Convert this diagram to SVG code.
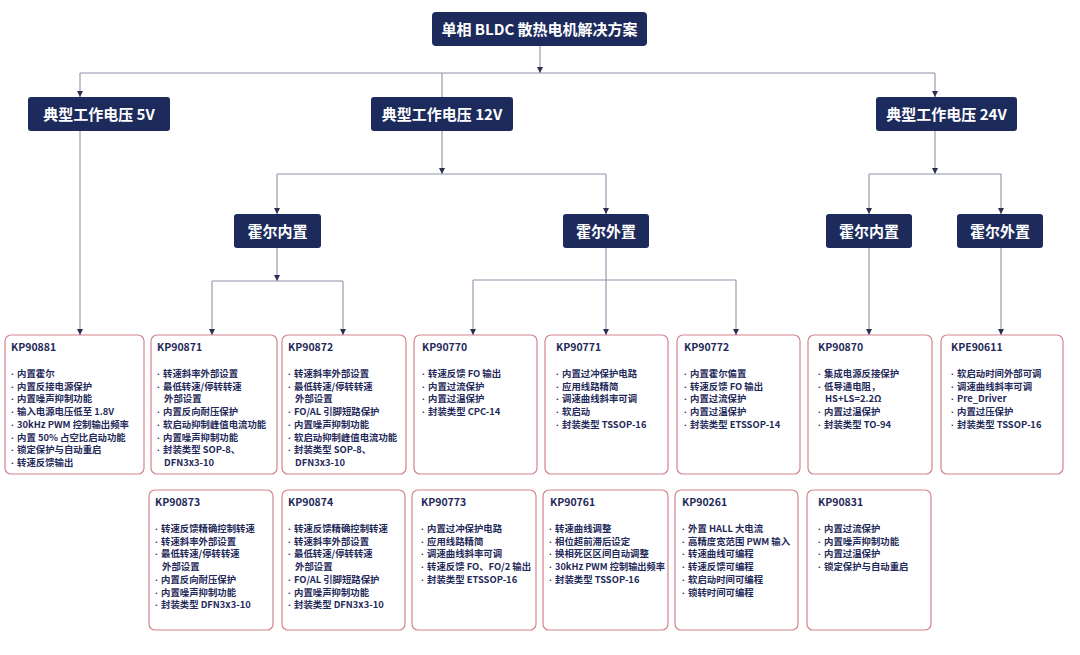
<svg xmlns="http://www.w3.org/2000/svg" width="1080" height="655" viewBox="0 0 1080 655">
<style>
.hd{fill:#1c2a5c;}
.ht{fill:#ffffff;font-family:"Noto Sans CJK SC","Noto Sans",sans-serif;font-weight:700;font-size:15px;text-anchor:middle;}
.card{fill:#ffffff;stroke:#d4848d;stroke-width:1.2;}
.ct{fill:#1f2a5a;font-family:"Noto Sans CJK SC","Noto Sans",sans-serif;font-weight:700;font-size:10.5px;}
.cl{fill:#1f2a5a;font-family:"Noto Sans CJK SC","Noto Sans",sans-serif;font-weight:700;font-size:9.4px;}
.b{font-family:"Noto Sans","DejaVu Sans",sans-serif;}
.ln{fill:none;stroke:#8e92a8;stroke-width:1.1;}
.ar{marker-end:url(#arr);}
</style>
<defs>
<marker id="arr" viewBox="0 0 10 10" refX="10" refY="5" markerWidth="6" markerHeight="6" markerUnits="userSpaceOnUse" orient="auto">
<path d="M0,0 L10,5 L0,10 z" fill="#2a2f4f"/>
</marker>
</defs>
<rect width="1080" height="655" fill="#ffffff"/>
<g id="connectors">
<path class="ln ar" d="M540,46 V73"/>
<path class="ln" d="M80,73 H935"/>
<path class="ln ar" d="M80,73 V97"/>
<path class="ln" d="M442,73 V97"/>
<path class="ln ar" d="M935,73 V97"/>
<path class="ln ar" d="M80,131 V335"/>
<path class="ln ar" d="M442,131 V174"/>
<path class="ln" d="M277,174 H606"/>
<path class="ln ar" d="M277,174 V214"/>
<path class="ln ar" d="M606,174 V214"/>
<path class="ln ar" d="M935,131 V174"/>
<path class="ln" d="M869,174 H1001"/>
<path class="ln ar" d="M869,174 V214"/>
<path class="ln ar" d="M1001,174 V214"/>
<path class="ln ar" d="M277,248 V281"/>
<path class="ln" d="M212,281 H343"/>
<path class="ln ar" d="M212,281 V335"/>
<path class="ln ar" d="M343,281 V335"/>
<path class="ln ar" d="M606,248 V335"/>
<path class="ln" d="M473,280 H736"/>
<path class="ln ar" d="M473,280 V335"/>
<path class="ln ar" d="M736,280 V335"/>
<path class="ln ar" d="M869,248 V335"/>
<path class="ln ar" d="M1001,248 V335"/>
</g>
<g id="title"><rect class="hd" x="432" y="12" width="215" height="34" rx="4"/><text class="ht" x="539.5" y="34.5">单相 BLDC 散热电机解决方案</text></g>
<g id="v5"><rect class="hd" x="28" y="97" width="142" height="34" rx="3"/><text class="ht" x="99" y="119.5">典型工作电压 5V</text></g>
<g id="v12"><rect class="hd" x="371" y="97" width="142" height="34" rx="3"/><text class="ht" x="442" y="119.5">典型工作电压 12V</text></g>
<g id="v24"><rect class="hd" x="876" y="97" width="141" height="34" rx="3"/><text class="ht" x="946.5" y="119.5">典型工作电压 24V</text></g>
<g id="hall-in-12"><rect class="hd" x="234" y="214" width="87" height="34" rx="3"/><text class="ht" x="277.5" y="236.5">霍尔内置</text></g>
<g id="hall-out-12"><rect class="hd" x="563" y="214" width="86" height="34" rx="3"/><text class="ht" x="606" y="236.5">霍尔外置</text></g>
<g id="hall-in-24"><rect class="hd" x="826" y="214" width="86" height="34" rx="3"/><text class="ht" x="869" y="236.5">霍尔内置</text></g>
<g id="hall-out-24"><rect class="hd" x="957" y="214" width="86" height="34" rx="3"/><text class="ht" x="1000" y="236.5">霍尔外置</text></g>

<g id="kp90881"><rect class="card" x="5" y="335" width="139" height="139" rx="6"/>
<text class="ct" x="11" y="351">KP90881</text>
<text class="cl" y="377"><tspan class="b" x="11">·</tspan><tspan x="17">内置霍尔</tspan></text>
<text class="cl" y="389.7"><tspan class="b" x="11">·</tspan><tspan x="17">内置反接电源保护</tspan></text>
<text class="cl" y="402.4"><tspan class="b" x="11">·</tspan><tspan x="17">内置噪声抑制功能</tspan></text>
<text class="cl" y="415.1"><tspan class="b" x="11">·</tspan><tspan x="17">输入电源电压低至 1.8V</tspan></text>
<text class="cl" y="427.8"><tspan class="b" x="11">·</tspan><tspan x="17">30kHz PWM 控制输出频率</tspan></text>
<text class="cl" y="440.5"><tspan class="b" x="11">·</tspan><tspan x="17">内置 50% 占空比启动功能</tspan></text>
<text class="cl" y="453.2"><tspan class="b" x="11">·</tspan><tspan x="17">锁定保护与自动重启</tspan></text>
<text class="cl" y="465.9"><tspan class="b" x="11">·</tspan><tspan x="17">转速反馈输出</tspan></text>
</g>
<g id="kp90871"><rect class="card" x="151" y="335" width="126" height="139" rx="6"/>
<text class="ct" x="157" y="351">KP90871</text>
<text class="cl" y="377"><tspan class="b" x="157">·</tspan><tspan x="163">转速斜率外部设置</tspan></text>
<text class="cl" y="389.7"><tspan class="b" x="157">·</tspan><tspan x="163">最低转速/停转转速</tspan></text>
<text class="cl" x="164" y="402.4">外部设置</text>
<text class="cl" y="415.1"><tspan class="b" x="157">·</tspan><tspan x="163">内置反向耐压保护</tspan></text>
<text class="cl" y="427.8"><tspan class="b" x="157">·</tspan><tspan x="163">软启动抑制峰值电流功能</tspan></text>
<text class="cl" y="440.5"><tspan class="b" x="157">·</tspan><tspan x="163">内置噪声抑制功能</tspan></text>
<text class="cl" y="453.2"><tspan class="b" x="157">·</tspan><tspan x="163">封装类型 SOP-8、</tspan></text>
<text class="cl" x="164" y="465.9">DFN3x3-10</text>
</g>
<g id="kp90872"><rect class="card" x="282" y="335" width="124" height="139" rx="6"/>
<text class="ct" x="288" y="351">KP90872</text>
<text class="cl" y="377"><tspan class="b" x="288">·</tspan><tspan x="294">转速斜率外部设置</tspan></text>
<text class="cl" y="389.7"><tspan class="b" x="288">·</tspan><tspan x="294">最低转速/停转转速</tspan></text>
<text class="cl" x="295" y="402.4">外部设置</text>
<text class="cl" y="415.1"><tspan class="b" x="288">·</tspan><tspan x="294">FO/AL 引脚短路保护</tspan></text>
<text class="cl" y="427.8"><tspan class="b" x="288">·</tspan><tspan x="294">内置噪声抑制功能</tspan></text>
<text class="cl" y="440.5"><tspan class="b" x="288">·</tspan><tspan x="294">软启动抑制峰值电流功能</tspan></text>
<text class="cl" y="453.2"><tspan class="b" x="288">·</tspan><tspan x="294">封装类型 SOP-8、</tspan></text>
<text class="cl" x="295" y="465.9">DFN3x3-10</text>
</g>
<g id="kp90770"><rect class="card" x="414" y="335" width="123" height="139" rx="6"/>
<text class="ct" x="422" y="351">KP90770</text>
<text class="cl" y="377"><tspan class="b" x="422">·</tspan><tspan x="428">转速反馈 FO 输出</tspan></text>
<text class="cl" y="389.7"><tspan class="b" x="422">·</tspan><tspan x="428">内置过流保护</tspan></text>
<text class="cl" y="402.4"><tspan class="b" x="422">·</tspan><tspan x="428">内置过温保护</tspan></text>
<text class="cl" y="415.1"><tspan class="b" x="422">·</tspan><tspan x="428">封装类型 CPC-14</tspan></text>
</g>
<g id="kp90771"><rect class="card" x="545" y="335" width="123" height="139" rx="6"/>
<text class="ct" x="556" y="351">KP90771</text>
<text class="cl" y="377"><tspan class="b" x="556">·</tspan><tspan x="562">内置过冲保护电路</tspan></text>
<text class="cl" y="389.7"><tspan class="b" x="556">·</tspan><tspan x="562">应用线路精简</tspan></text>
<text class="cl" y="402.4"><tspan class="b" x="556">·</tspan><tspan x="562">调速曲线斜率可调</tspan></text>
<text class="cl" y="415.1"><tspan class="b" x="556">·</tspan><tspan x="562">软启动</tspan></text>
<text class="cl" y="427.8"><tspan class="b" x="556">·</tspan><tspan x="562">封装类型 TSSOP-16</tspan></text>
</g>
<g id="kp90772"><rect class="card" x="677" y="335" width="123" height="139" rx="6"/>
<text class="ct" x="684" y="351">KP90772</text>
<text class="cl" y="377"><tspan class="b" x="684">·</tspan><tspan x="690">内置霍尔偏置</tspan></text>
<text class="cl" y="389.7"><tspan class="b" x="684">·</tspan><tspan x="690">转速反馈 FO 输出</tspan></text>
<text class="cl" y="402.4"><tspan class="b" x="684">·</tspan><tspan x="690">内置过流保护</tspan></text>
<text class="cl" y="415.1"><tspan class="b" x="684">·</tspan><tspan x="690">内置过温保护</tspan></text>
<text class="cl" y="427.8"><tspan class="b" x="684">·</tspan><tspan x="690">封装类型 ETSSOP-14</tspan></text>
</g>
<g id="kp90870"><rect class="card" x="808" y="335" width="124" height="139" rx="6"/>
<text class="ct" x="818" y="351">KP90870</text>
<text class="cl" y="377"><tspan class="b" x="818">·</tspan><tspan x="824">集成电源反接保护</tspan></text>
<text class="cl" y="389.7"><tspan class="b" x="818">·</tspan><tspan x="824">低导通电阻，</tspan></text>
<text class="cl" x="825" y="402.4">HS+LS=2.2Ω</text>
<text class="cl" y="415.1"><tspan class="b" x="818">·</tspan><tspan x="824">内置过温保护</tspan></text>
<text class="cl" y="427.8"><tspan class="b" x="818">·</tspan><tspan x="824">封装类型 TO-94</tspan></text>
</g>
<g id="kpe90611"><rect class="card" x="941" y="335" width="122" height="139" rx="6"/>
<text class="ct" x="951" y="351">KPE90611</text>
<text class="cl" y="377"><tspan class="b" x="951">·</tspan><tspan x="957">软启动时间外部可调</tspan></text>
<text class="cl" y="389.7"><tspan class="b" x="951">·</tspan><tspan x="957">调速曲线斜率可调</tspan></text>
<text class="cl" y="402.4"><tspan class="b" x="951">·</tspan><tspan x="957">Pre_Driver</tspan></text>
<text class="cl" y="415.1"><tspan class="b" x="951">·</tspan><tspan x="957">内置过压保护</tspan></text>
<text class="cl" y="427.8"><tspan class="b" x="951">·</tspan><tspan x="957">封装类型 TSSOP-16</tspan></text>
</g>

<g id="kp90873"><rect class="card" x="149" y="490" width="124" height="140" rx="6"/>
<text class="ct" x="155" y="506">KP90873</text>
<text class="cl" y="532"><tspan class="b" x="155">·</tspan><tspan x="161">转速反馈精确控制转速</tspan></text>
<text class="cl" y="544.7"><tspan class="b" x="155">·</tspan><tspan x="161">转速斜率外部设置</tspan></text>
<text class="cl" y="557.4"><tspan class="b" x="155">·</tspan><tspan x="161">最低转速/停转转速</tspan></text>
<text class="cl" x="162" y="570.1">外部设置</text>
<text class="cl" y="582.8"><tspan class="b" x="155">·</tspan><tspan x="161">内置反向耐压保护</tspan></text>
<text class="cl" y="595.5"><tspan class="b" x="155">·</tspan><tspan x="161">内置噪声抑制功能</tspan></text>
<text class="cl" y="608.2"><tspan class="b" x="155">·</tspan><tspan x="161">封装类型 DFN3x3-10</tspan></text>
</g>
<g id="kp90874"><rect class="card" x="282" y="490" width="123" height="140" rx="6"/>
<text class="ct" x="288" y="506">KP90874</text>
<text class="cl" y="532"><tspan class="b" x="288">·</tspan><tspan x="294">转速反馈精确控制转速</tspan></text>
<text class="cl" y="544.7"><tspan class="b" x="288">·</tspan><tspan x="294">转速斜率外部设置</tspan></text>
<text class="cl" y="557.4"><tspan class="b" x="288">·</tspan><tspan x="294">最低转速/停转转速</tspan></text>
<text class="cl" x="295" y="570.1">外部设置</text>
<text class="cl" y="582.8"><tspan class="b" x="288">·</tspan><tspan x="294">FO/AL 引脚短路保护</tspan></text>
<text class="cl" y="595.5"><tspan class="b" x="288">·</tspan><tspan x="294">内置噪声抑制功能</tspan></text>
<text class="cl" y="608.2"><tspan class="b" x="288">·</tspan><tspan x="294">封装类型 DFN3x3-10</tspan></text>
</g>
<g id="kp90773"><rect class="card" x="412" y="490" width="124" height="140" rx="6"/>
<text class="ct" x="421" y="506">KP90773</text>
<text class="cl" y="532"><tspan class="b" x="421">·</tspan><tspan x="427">内置过冲保护电路</tspan></text>
<text class="cl" y="544.7"><tspan class="b" x="421">·</tspan><tspan x="427">应用线路精简</tspan></text>
<text class="cl" y="557.4"><tspan class="b" x="421">·</tspan><tspan x="427">调速曲线斜率可调</tspan></text>
<text class="cl" y="570.1"><tspan class="b" x="421">·</tspan><tspan x="427">转速反馈 FO、FO/2 输出</tspan></text>
<text class="cl" y="582.8"><tspan class="b" x="421">·</tspan><tspan x="427">封装类型 ETSSOP-16</tspan></text>
</g>
<g id="kp90761"><rect class="card" x="543" y="490" width="125" height="140" rx="6"/>
<text class="ct" x="550" y="506">KP90761</text>
<text class="cl" y="532"><tspan class="b" x="549">·</tspan><tspan x="555">转速曲线调整</tspan></text>
<text class="cl" y="544.7"><tspan class="b" x="549">·</tspan><tspan x="555">相位超前滞后设定</tspan></text>
<text class="cl" y="557.4"><tspan class="b" x="549">·</tspan><tspan x="555">换相死区区间自动调整</tspan></text>
<text class="cl" y="570.1"><tspan class="b" x="549">·</tspan><tspan x="555" textLength="110" lengthAdjust="spacingAndGlyphs">30kHz PWM 控制输出频率</tspan></text>
<text class="cl" y="582.8"><tspan class="b" x="549">·</tspan><tspan x="555">封装类型 TSSOP-16</tspan></text>
</g>
<g id="kp90261"><rect class="card" x="675" y="490" width="123" height="140" rx="6"/>
<text class="ct" x="682" y="506">KP90261</text>
<text class="cl" y="532"><tspan class="b" x="682">·</tspan><tspan x="688">外置 HALL 大电流</tspan></text>
<text class="cl" y="544.7"><tspan class="b" x="682">·</tspan><tspan x="688">高精度宽范围 PWM 输入</tspan></text>
<text class="cl" y="557.4"><tspan class="b" x="682">·</tspan><tspan x="688">转速曲线可编程</tspan></text>
<text class="cl" y="570.1"><tspan class="b" x="682">·</tspan><tspan x="688">转速反馈可编程</tspan></text>
<text class="cl" y="582.8"><tspan class="b" x="682">·</tspan><tspan x="688">软启动时间可编程</tspan></text>
<text class="cl" y="595.5"><tspan class="b" x="682">·</tspan><tspan x="688">锁转时间可编程</tspan></text>
</g>
<g id="kp90831"><rect class="card" x="807" y="490" width="124" height="140" rx="6"/>
<text class="ct" x="818" y="506">KP90831</text>
<text class="cl" y="532"><tspan class="b" x="818">·</tspan><tspan x="824">内置过流保护</tspan></text>
<text class="cl" y="544.7"><tspan class="b" x="818">·</tspan><tspan x="824">内置噪声抑制功能</tspan></text>
<text class="cl" y="557.4"><tspan class="b" x="818">·</tspan><tspan x="824">内置过温保护</tspan></text>
<text class="cl" y="570.1"><tspan class="b" x="818">·</tspan><tspan x="824">锁定保护与自动重启</tspan></text>
</g>
</svg>
